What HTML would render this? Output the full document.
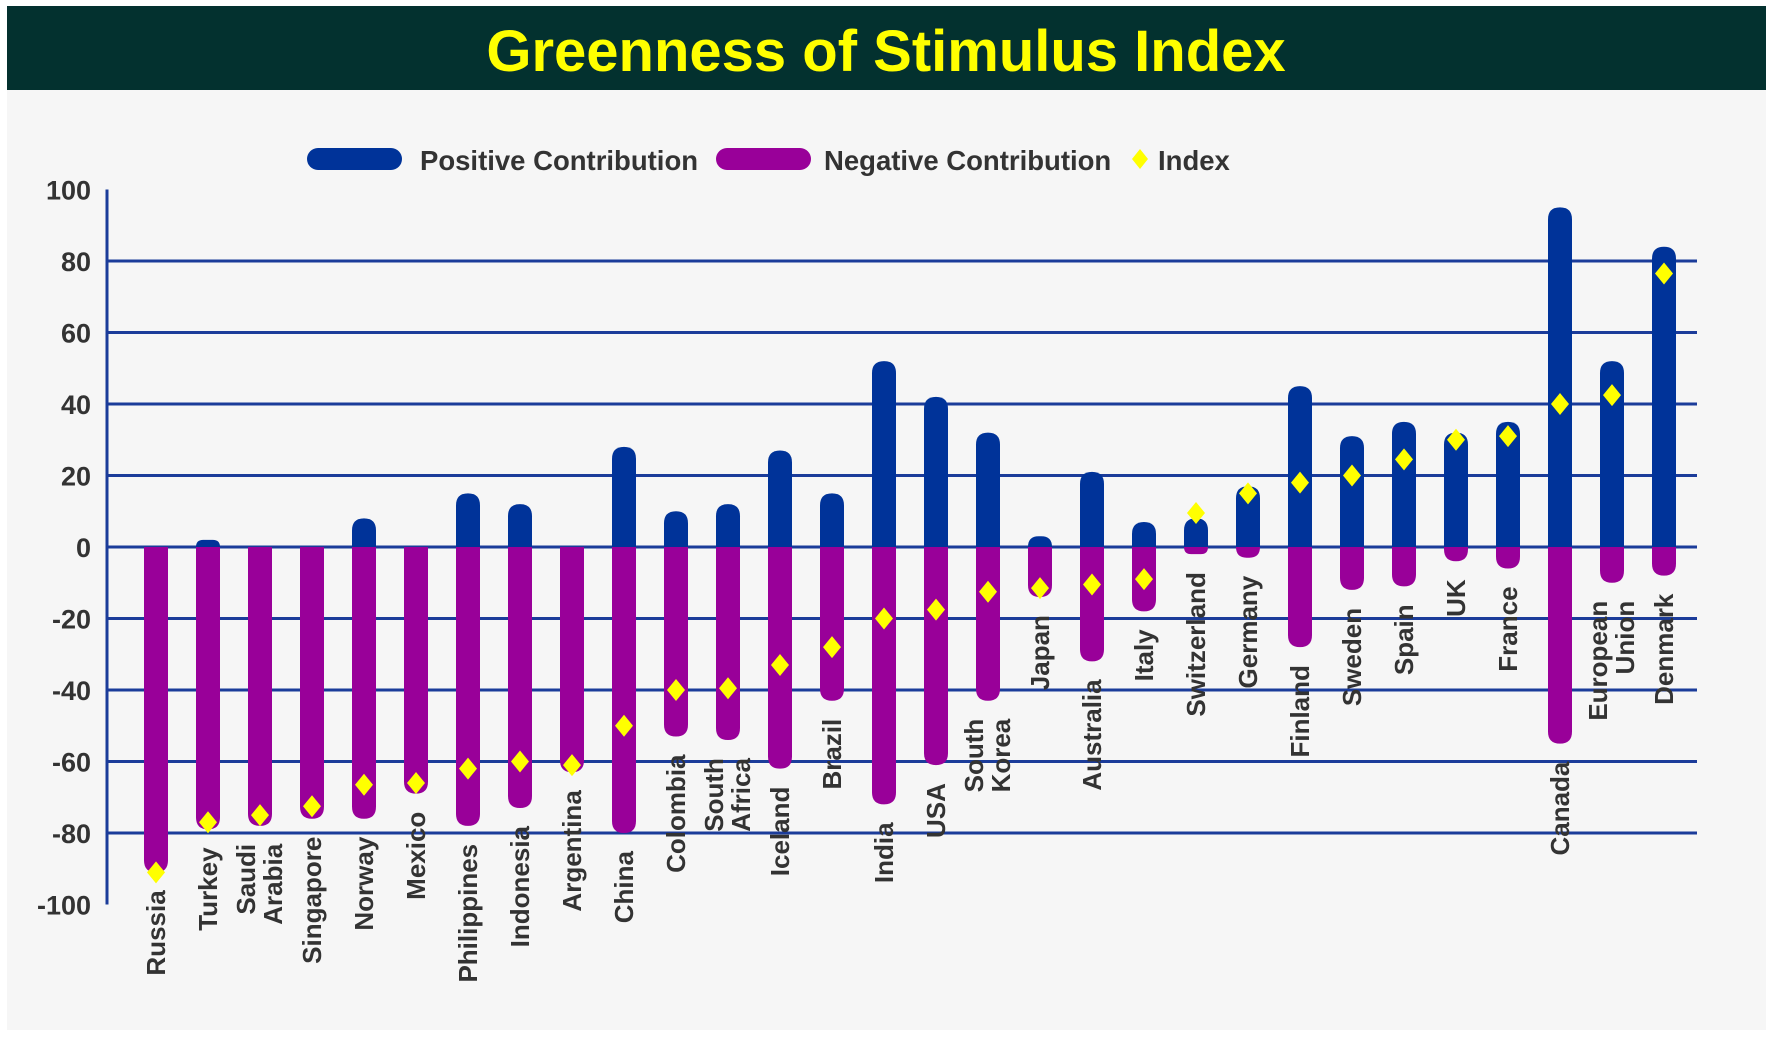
<!DOCTYPE html>
<html><head><meta charset="utf-8"><style>
html,body{margin:0;padding:0;background:#fff}
svg{display:block}
text{font-family:"Liberation Sans",Arial,sans-serif;font-weight:bold}
</style></head><body>
<svg id="chart" width="1772" height="1037" viewBox="0 0 1772 1037">
<rect x="7" y="90" width="1759" height="940" fill="#f6f6f6"/>
<rect x="7" y="6" width="1759" height="84" fill="#03312f"/>
<text x="886" y="71" text-anchor="middle" font-size="58" fill="#ffff00">Greenness of Stimulus Index</text>
<g>
<rect x="307" y="148" width="95" height="22" rx="11" fill="#003399"/>
<text x="420" y="170" font-size="27.5" fill="#333">Positive Contribution</text>
<rect x="716" y="148" width="95" height="22" rx="11" fill="#990099"/>
<text x="824" y="170" font-size="27.5" fill="#333">Negative Contribution</text>
<polygon points="1140,149 1148,159 1140,169 1132,159" fill="#ffff00"/>
<text x="1158" y="170" font-size="27.5" fill="#333">Index</text>
</g>
<g id="grid"></g><g id="bars"></g><g id="labels"></g>
</svg>
<script>
const categories=["Russia","Turkey","Saudi|Arabia","Singapore","Norway","Mexico","Philippines","Indonesia","Argentina","China","Colombia","South|Africa","Iceland","Brazil","India","USA","South|Korea","Japan","Australia","Italy","Switzerland","Germany","Finland","Sweden","Spain","UK","France","Canada","European|Union","Denmark"];
const positive=[0,2,0,0,8,0,15,12,0,28,10,12,27,15,52,42,32,3,21,7,8,17,45,31,35,32,35,95,52,84];
const negative=[-91,-79,-78,-76,-76,-69,-78,-73,-63,-80,-53,-54,-62,-43,-72,-61,-43,-14,-32,-18,-2,-3,-28,-12,-11,-4,-6,-55,-10,-8];
const indexVals=[-91,-77,-75,-72.5,-66.5,-66,-62,-60,-61,-50,-40,-39.5,-33,-28,-20,-17.5,-12.5,-11.5,-10.5,-9,9.5,15,18,20,24.5,30,31,40,42.5,76.5];
const yTicks=[100,80,60,40,20,0,-20,-40,-60,-80,-100];
const NS="http://www.w3.org/2000/svg";
const y=v=>547-v*3.575;
const x=i=>156+i*52.0;
const BW=24;
function mk(tag,attrs,parent){const e=document.createElementNS(NS,tag);for(const k in attrs)e.setAttribute(k,attrs[k]);parent.appendChild(e);return e;}
const grid=document.getElementById('grid'),bars=document.getElementById('bars'),labels=document.getElementById('labels');
yTicks.forEach(t=>{
  if(t!==100&&t!==-100){const l=mk('line',{x1:107,x2:1697,y1:y(t),y2:y(t),stroke:'#1b3c9a','stroke-width':3},grid);
  
  }
  const tx=mk('text',{x:91,y:y(t)+10,'text-anchor':'end','font-size':27,fill:'#333'},grid);
  tx.textContent=t;
  
  
});
const ax=mk('line',{x1:107,x2:107,y1:y(100),y2:y(-100),stroke:'#1b3c9a','stroke-width':3},grid);


function pill(cx,top,bot,color,roundTop,roundBot,parent){
  const r=BW/2,h=bot-top;if(h<=0)return null;
  const rt=roundTop?Math.min(r,h):0,rb=roundBot?Math.min(r,h):0;
  const L=cx-r,R=cx+r;
  const d=`M${L},${top+rt} Q${L},${top} ${L+rt},${top} L${R-rt},${top} Q${R},${top} ${R},${top+rt} L${R},${bot-rb} Q${R},${bot} ${R-rb},${bot} L${L+rb},${bot} Q${L},${bot} ${L},${bot-rb} Z`;
  return mk('path',{d:d,fill:color},parent);
}
categories.forEach((c,i)=>{
  const cx=x(i);
  const p=pill(cx,y(positive[i]),y(0),'#003399',true,false,bars);
  if(p){
  }
  const n=pill(cx,y(0),y(negative[i]),'#990099',false,true,bars);
  if(n){
  }
  const iy=y(indexVals[i]);
  const dm=mk('polygon',{points:`${cx},${iy-11} ${cx+9},${iy} ${cx},${iy+11} ${cx-9},${iy}`,fill:'#ffff00'},bars);
  
  
  const lowest=Math.min(negative[i],indexVals[i]);
  const top=y(Math.min(lowest,0))+18;
  const lines=c.split('|');
  const g=mk('g',{},labels);
  
  
  lines.forEach((ln,k)=>{
    const off=lines.length===1?9:(k===0?-5:22);
    const t=mk('text',{'font-size':26,fill:'#333','text-anchor':'end',transform:`translate(${cx+off},${top}) rotate(-90)`},g);
    t.textContent=ln;
  });
});
</script>
</body></html>
